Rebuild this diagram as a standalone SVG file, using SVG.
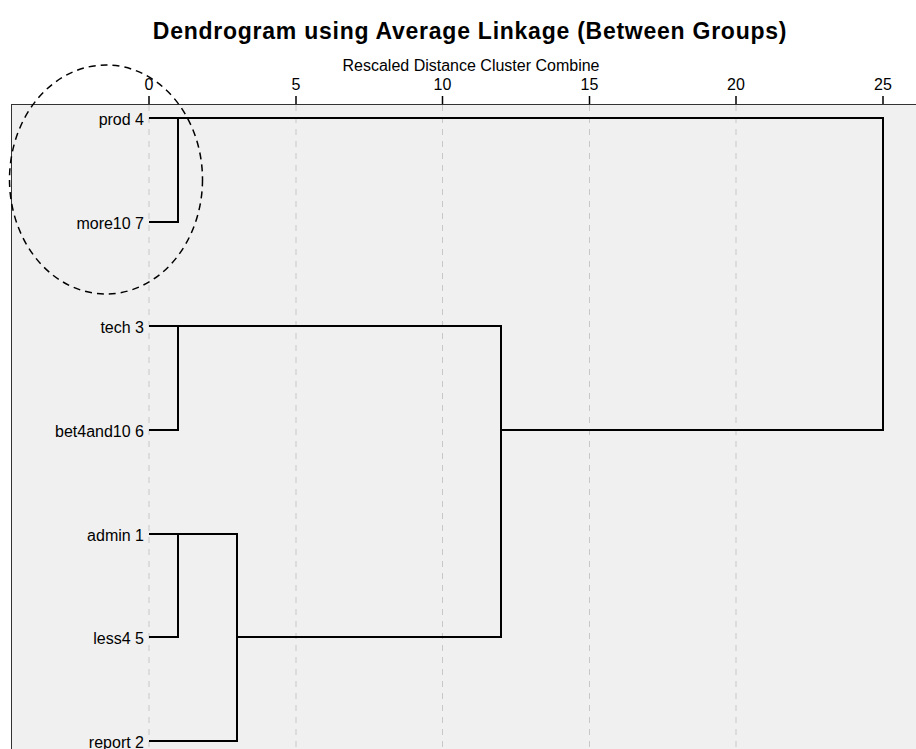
<svg xmlns="http://www.w3.org/2000/svg" width="916" height="749" viewBox="0 0 916 749">
<style>
text{font-family:"Liberation Sans",Arial,sans-serif;fill:#000}
.title{font-size:23px;font-weight:bold;letter-spacing:0.75px}
.lbl{font-size:16px}
.grid{stroke:#c8c8c8;stroke-width:1;stroke-dasharray:6 6}
.tick{stroke:#000;stroke-width:1.5}
.link{stroke:#000;stroke-width:2;fill:none;stroke-linecap:square}
</style>
<rect width="916" height="749" fill="#fff"/>
<text class="title" x="470" y="39" text-anchor="middle">Dendrogram using Average Linkage (Between Groups)</text>
<text class="lbl" x="471" y="71" text-anchor="middle">Rescaled Distance Cluster Combine</text>
<g id="plot-area">
<rect x="11.5" y="104.5" width="910" height="650" fill="#f0f0f0" stroke="#333" stroke-width="1"/>
</g>
<g id="axis">
<line class="grid" x1="149" y1="105" x2="149" y2="749"/>
<line class="grid" x1="296" y1="105" x2="296" y2="749"/>
<line class="grid" x1="442.5" y1="105" x2="442.5" y2="749"/>
<line class="grid" x1="589.5" y1="105" x2="589.5" y2="749"/>
<line class="grid" x1="736" y1="105" x2="736" y2="749"/>
<line class="tick" x1="149" y1="96" x2="149" y2="104"/>
<line class="tick" x1="296" y1="96" x2="296" y2="104"/>
<line class="tick" x1="442.5" y1="96" x2="442.5" y2="104"/>
<line class="tick" x1="589.5" y1="96" x2="589.5" y2="104"/>
<line class="tick" x1="736" y1="96" x2="736" y2="104"/>
<line class="tick" x1="883" y1="96" x2="883" y2="104"/>
<text class="lbl" x="149" y="90" text-anchor="middle">0</text>
<text class="lbl" x="296" y="90" text-anchor="middle">5</text>
<text class="lbl" x="442.5" y="90" text-anchor="middle">10</text>
<text class="lbl" x="589.5" y="90" text-anchor="middle">15</text>
<text class="lbl" x="736" y="90" text-anchor="middle">20</text>
<text class="lbl" x="883" y="90" text-anchor="middle">25</text>
</g>
<g id="leaf-prod4"><text class="lbl" x="144" y="124.5" text-anchor="end">prod 4</text></g>
<g id="leaf-more10-7"><text class="lbl" x="144" y="228.5" text-anchor="end">more10 7</text></g>
<g id="leaf-tech3"><text class="lbl" x="144" y="332.5" text-anchor="end">tech 3</text></g>
<g id="leaf-bet4and10-6"><text class="lbl" x="144" y="436.5" text-anchor="end">bet4and10 6</text></g>
<g id="leaf-admin1"><text class="lbl" x="144" y="540.5" text-anchor="end">admin 1</text></g>
<g id="leaf-less4-5"><text class="lbl" x="144" y="643.5" text-anchor="end">less4 5</text></g>
<g id="leaf-report2"><text class="lbl" x="144" y="747.5" text-anchor="end">report 2</text></g>
<g id="connectors">
<path class="link" d="M150 222 H178 V118 M150 118 H883 V430 H501"/>
<path class="link" d="M150 430 H178 V326 M150 326 H501 V637 H237"/>
<path class="link" d="M150 637 H178 V534 M150 534 H237 V741 H150"/>
</g>
<ellipse id="highlight" cx="106" cy="179.5" rx="96.5" ry="114.5" fill="none" stroke="#000" stroke-width="1.5" stroke-dasharray="7 5"/>
</svg>
